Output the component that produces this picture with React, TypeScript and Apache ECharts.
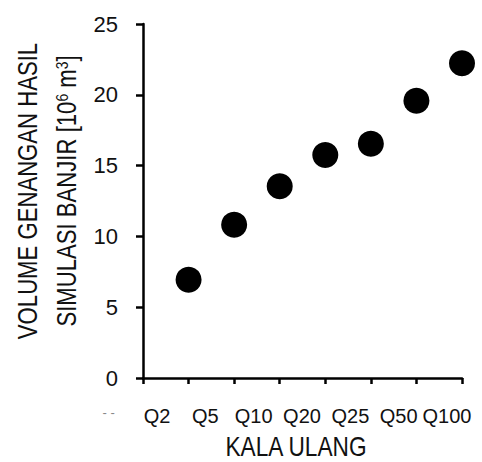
import React, { useEffect, useRef } from "react";
import * as echarts from "echarts";

const categories = ["Q2", "Q5", "Q10", "Q20", "Q25", "Q50", "Q100"];
const volumes = [6.94, 10.83, 13.54, 15.75, 16.55, 19.58, 22.22];
const leadLabel = "- -";
const labelRow = [leadLabel, ...categories];
const yTicks = { min: 0, max: 25, interval: 5 };
const yTitleLine1 = "VOLUME GENANGAN HASIL";
const yTitleLine2 = "SIMULASI BANJIR [10{s|6} m{s|3}]";
const xTitle = "KALA ULANG";

const FONT = "'Liberation Sans', Arial, sans-serif";

export default function App() {
  const ref = useRef<HTMLDivElement>(null);
  useEffect(() => {
    document.body.style.margin = "0";
    const chart = echarts.init(ref.current!, null, { renderer: "svg" });
    const data = volumes.map((v, i) => [i + 1, v]);
    const titleStyle = { fontFamily: FONT, fontSize: 27, fill: "#111", align: "center", verticalAlign: "middle" };
    chart.setOption({
      animation: false,
      backgroundColor: "#ffffff",
      grid: [
        { left: 143, right: 20, top: 24, bottom: 84, containLabel: false, outerBoundsMode: "none" },
        { left: 84.5, right: 10.8, top: 24, bottom: 84, containLabel: false, outerBoundsMode: "none" },
      ],
      xAxis: [
        {
          type: "value",
          gridIndex: 0,
          min: 0,
          max: categories.length,
          interval: 1,
          axisLine: { show: true, lineStyle: { color: "#000", width: 2.5 } },
          axisTick: { show: true, length: 6, lineStyle: { color: "#000", width: 2.5 } },
          axisLabel: { show: false },
          splitLine: { show: false },
        },
        {
          type: "category",
          gridIndex: 1,
          data: labelRow,
          boundaryGap: true,
          axisLine: { show: false },
          axisTick: { show: false },
          splitLine: { show: false },
          axisLabel: {
            interval: 0,
            margin: 28,
            fontFamily: FONT,
            fontSize: 20,
            color: "#111",
            hideOverlap: false,
            formatter: (v: string) => (v === leadLabel ? "{g|" + v + "}" : v),
            rich: { g: { fontFamily: FONT, fontSize: 13, color: "#888" } },
          },
        },
      ],
      yAxis: [
        {
          type: "value",
          gridIndex: 0,
          min: yTicks.min,
          max: yTicks.max,
          interval: yTicks.interval,
          axisLine: { show: true, lineStyle: { color: "#000", width: 2.5 } },
          axisTick: { show: true, length: 7, lineStyle: { color: "#000", width: 2.5 } },
          axisLabel: { margin: 25, fontFamily: FONT, fontSize: 22, color: "#111", showMaxLabel: true },
          splitLine: { show: false },
        },
        { type: "value", gridIndex: 1, show: false },
      ],
      graphic: [
        {
          type: "text",
          x: 28,
          y: 191,
          rotation: Math.PI / 2,
          scaleX: 0.82,
          style: { ...titleStyle, text: yTitleLine1 },
        },
        {
          type: "text",
          x: 67,
          y: 191,
          rotation: Math.PI / 2,
          scaleX: 0.82,
          style: {
            ...titleStyle,
            text: yTitleLine2,
            rich: {
              s: { fontFamily: FONT, fontSize: 17, verticalAlign: "top", fill: "#111", padding: [0, 0, 8, 0] },
            },
          },
        },
        {
          type: "text",
          x: 296,
          y: 446,
          scaleX: 0.84,
          style: { ...titleStyle, text: xTitle, fontSize: 27 },
        },
      ],
      series: [
        {
          type: "scatter",
          xAxisIndex: 0,
          yAxisIndex: 0,
          data,
          symbol: "circle",
          symbolSize: 26,
          itemStyle: { color: "#000", opacity: 1 },
        },
      ],
    });
    return () => chart.dispose();
  }, []);
  return <div ref={ref} style={{ width: 482, height: 462 }} />;
}
